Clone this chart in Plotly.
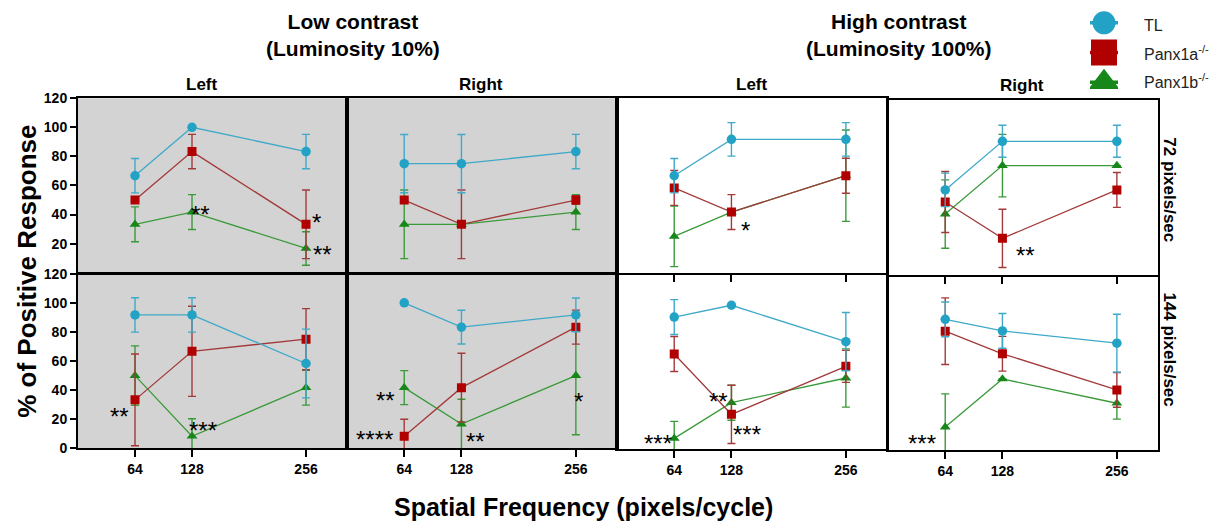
import plotly.graph_objects as go

# ---------------- data ----------------
freqs = [64, 128, 256]
panel_names = ["Low-Left-72", "Low-Right-72", "High-Left-72", "High-Right-72",
               "Low-Left-144", "Low-Right-144", "High-Left-144", "High-Right-144"]

tl_mean = [[66.7, 100, 83.3], [75, 75, 83.3], [66.7, 91.7, 91.7], [58.3, 91.7, 91.7],
           [91.7, 91.7, 58.3], [100, 83.3, 91.7], [90.9, 99, 74], [90.5, 82.5, 74]]
tl_err = [[11.8, 0, 11.8], [20, 20, 11.8], [11.8, 11.5, 11.5], [11.5, 11, 11],
          [11.8, 11.8, 23.6], [0, 11.6, 11.6], [12, 0, 20], [12, 12, 20]]

pa_mean = [[50, 83.3, 33.3], [50, 33.3, 50], [58.3, 41.7, 66.7], [50, 25, 58.3],
           [33.3, 66.7, 75], [8.3, 41.7, 83.3], [65.5, 24, 57], [82.3, 66.7, 41.7]]
pa_err = [[0, 11.8, 23.6], [0, 23.6, 3], [12, 12, 12], [21, 20, 12],
          [31.5, 31, 21], [11.7, 23.6, 11.7], [12, 20, 11], [23, 12, 12]]

pb_mean = [[33.3, 41.7, 16.7], [33.3, 33.3, 41.7], [25, 41.7, 66.7], [41.7, 75, 75],
           [50, 8.3, 41.7], [41.7, 16.7, 50], [7.5, 32, 49], [16, 49.3, 32.5]]
pb_err = [[12, 12, 11.5], [23.6, 0, 12], [20.8, 0, 31.4], [23.5, 21.5, 0],
          [20.4, 12, 12], [11.7, 17, 40.7], [11.7, 12, 20], [23, 0, 11]]

series_names = ["TL", "Panx1a<sup>-/-</sup>", "Panx1b<sup>-/-</sup>"]
y_ticks_top = [20, 40, 60, 80, 100, 120]
y_ticks_bottom = [0, 20, 40, 60, 80, 100, 120]
col_titles = ["Left", "Right", "Left", "Right"]
group_titles = ["Low contrast<br>(Luminosity 10%)", "High contrast<br>(Luminosity 100%)"]
row_labels = ["72 pixels/sec", "144 pixels/sec"]
y_title = "% of Positive Response"
x_title = "Spatial Frequency (pixels/cycle)"

# significance stars: (panel index, x, y, text)
stars = [
    (0, 137, 44, "**"), (0, 268, 39, "*"), (0, 274, 16.5, "**"),
    (2, 144, 33, "*"),
    (3, 154, 17, "**"),
    (4, 47, 26, "**"), (4, 140, 16.5, "***"),
    (5, 43, 37, "**"), (5, 31, 10, "****"), (5, 144, 8.5, "**"), (5, 259, 36, "*"),
    (6, 113, 37, "**"), (6, 46, 8, "***"), (6, 145, 14.5, "***"),
    (7, 38, 9, "***"),
]

# ---------------- styles ----------------
W, H = 1217, 531
FONT = "Arial, Liberation Sans, sans-serif"
c_tl, c_tl_line = "#22a2c4", "#3fa9c9"
c_pa, c_pa_line = "#b00000", "#a33a3a"
c_pb, c_pb_line = "#17871a", "#3a9a3a"
gray_bg = "#d3d3d3"

col_px = [(78, 347), (347, 617), (617, 887), (888, 1158)]
row_px = {0: [(93, 273), (93, 273), (93, 273), (95, 275)],
          1: [(274, 454), (274, 454), (275, 455), (277, 456)]}

def px_x(p):
    return p / W

def px_y(p):
    return 1 - p / H

fig = go.Figure()
layout = dict(width=W, height=H, margin=dict(l=0, r=0, t=0, b=0),
              paper_bgcolor="white", plot_bgcolor="rgba(0,0,0,0)",
              showlegend=False, font=dict(family=FONT, color="black"))
shapes = []
annotations = []

series = [
    (pb_mean, pb_err, c_pb, c_pb_line, "triangle-up", 9.5),
    (pa_mean, pa_err, c_pa, c_pa_line, "square", 9),
    (tl_mean, tl_err, c_tl, c_tl_line, "circle", 9.5),
]

tickfont = dict(size=14, family=FONT, weight="bold", color="black")

for i in range(8):
    row, col = i // 4, i % 4
    n = i + 1
    xa = "x" if n == 1 else f"x{n}"
    ya = "y" if n == 1 else f"y{n}"
    x0, x1 = col_px[col]
    y0, y1 = row_px[row][col]
    for mean, err, mc, lc, sym, sz in series:
        fig.add_trace(go.Scatter(
            x=freqs, y=mean[i], xaxis=xa, yaxis=ya, mode="lines+markers",
            line=dict(color=lc, width=1.3),
            marker=dict(color=mc, symbol=sym, size=sz),
            error_y=dict(type="data", array=err[i], color=lc, thickness=1.4, width=4),
            cliponaxis=True))
    show_xlab = row == 1
    xticks = "outside" if (row == 1 or col >= 2) else ""
    layout["xaxis" if n == 1 else f"xaxis{n}"] = dict(
        domain=[px_x(x0), px_x(x1)], anchor=ya, range=[0, 302],
        tickvals=freqs, ticktext=[str(f) for f in freqs],
        showticklabels=show_xlab, ticks=xticks, ticklen=7, tickwidth=1.5, tickcolor="black",
        tickfont=tickfont,
        showline=True, mirror=True, linecolor="black", linewidth=2,
        showgrid=False, zeroline=False, fixedrange=True)
    layout["yaxis" if n == 1 else f"yaxis{n}"] = dict(
        domain=[px_y(y1), px_y(y0)], anchor=xa, range=[0, 120],
        tickvals=y_ticks_top if row == 0 else y_ticks_bottom,
        showticklabels=(col == 0), ticks="outside" if col == 0 else "",
        ticklen=6, tickwidth=1.5, tickcolor="black",
        tickfont=tickfont,
        showline=True, mirror=True, linecolor="black", linewidth=2,
        showgrid=False, zeroline=False, fixedrange=True)
    if col < 2:
        shapes.append(dict(type="rect", xref=f"{xa} domain", yref=f"{ya} domain",
                           x0=0, x1=1, y0=0, y1=1, fillcolor=gray_bg,
                           line=dict(width=0), layer="below"))

for p, sx, sy, txt in stars:
    n = p + 1
    annotations.append(dict(
        x=sx, y=sy, xref="x" if n == 1 else f"x{n}", yref="y" if n == 1 else f"y{n}",
        text=txt, showarrow=False, xanchor="center", yanchor="middle", yshift=-6,
        font=dict(size=24, family=FONT, color="black")))

# titles
title_pos = [(353, 28), (899, 28)]
for (tx, ty), t in zip(title_pos, group_titles):
    annotations.append(dict(x=px_x(tx), y=px_y(ty), xref="paper", yref="paper",
                            text=t, showarrow=False, xanchor="center", yanchor="middle",
                            font=dict(size=21, family=FONT, weight="bold", color="black")))
col_title_x = [202, 481, 752, 1022]
col_title_y = [79, 79, 79, 80]
for cx, cy, t in zip(col_title_x, col_title_y, col_titles):
    annotations.append(dict(x=px_x(cx), y=px_y(cy), xref="paper", yref="paper",
                            text=t, showarrow=False, xanchor="center", yanchor="middle",
                            font=dict(size=17, family=FONT, weight="bold", color="black")))
row_label_y = [187, 352]
for ry, t in zip(row_label_y, row_labels):
    annotations.append(dict(x=px_x(1170), y=px_y(ry), xref="paper", yref="paper",
                            text=t, showarrow=False, textangle=90,
                            xanchor="center", yanchor="middle",
                            font=dict(size=17, family=FONT, weight="bold", color="black")))
annotations.append(dict(x=px_x(27), y=px_y(272), xref="paper", yref="paper",
                        text=y_title, showarrow=False, textangle=-90,
                        xanchor="center", yanchor="middle",
                        font=dict(size=26, family=FONT, weight="bold", color="black")))
annotations.append(dict(x=px_x(583), y=px_y(515), xref="paper", yref="paper",
                        text=x_title, showarrow=False, xanchor="center", yanchor="middle",
                        font=dict(size=25, family=FONT, weight="bold", color="black")))

# custom legend (large glyphs) on its own hidden axes
leg_styles = [(c_tl, "circle", 23), (c_pa, "square", 26), (c_pb, "triangle-up", 27)]
leg_text_y = [18, 46, 75]
for k, (name, (lc, sym, sz)) in enumerate(zip(series_names, leg_styles)):
    fig.add_trace(go.Scatter(
        x=[0, 2], y=[k, k], xaxis="x9", yaxis="y9", mode="lines",
        line=dict(color=lc, width=3.5), hoverinfo="skip", opacity=1))
    fig.add_trace(go.Scatter(
        x=[1], y=[k], xaxis="x9", yaxis="y9", mode="markers",
        marker=dict(color=lc, symbol=sym, size=sz, opacity=1,
                    line=dict(width=0)), hoverinfo="skip", opacity=1))
    annotations.append(dict(x=px_x(1142), y=px_y(leg_text_y[k]), xref="paper", yref="paper",
                            text=name, showarrow=False,
                            xanchor="left", yanchor="middle",
                            font=dict(size=16, family=FONT, color="#222")))
layout["xaxis9"] = dict(domain=[px_x(1090), px_x(1118)], anchor="y9", range=[0, 2],
                        visible=False, fixedrange=True)
layout["yaxis9"] = dict(domain=[px_y(92), px_y(0)], anchor="x9", range=[2.5, -0.5],
                        visible=False, fixedrange=True)

layout["shapes"] = shapes
layout["annotations"] = annotations
fig.update_layout(**layout)
fig.write_html("out.html")
